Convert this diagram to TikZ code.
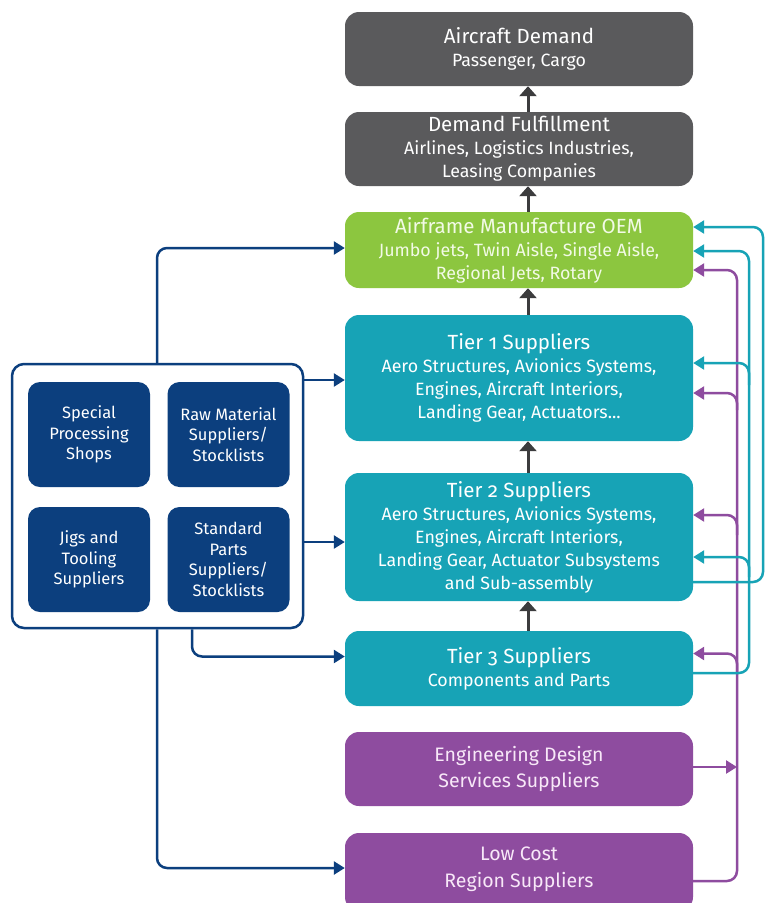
\documentclass[tikz,border=0pt]{standalone}
\usepackage{fontspec}
\setmainfont{Fira Sans}[Numbers=OldStyle]
\usetikzlibrary{arrows.meta,calc}
\definecolor{cgray}{HTML}{5A5A5C}
\definecolor{cgreen}{HTML}{8CC63F}
\definecolor{cteal}{HTML}{17A3B6}
\definecolor{cpurple}{HTML}{8E4C9F}
\definecolor{cblue}{HTML}{0C3F7E}
\definecolor{cdark}{HTML}{3C3C3E}
\definecolor{ctxtgreen}{HTML}{F2FAE6}
\definecolor{ctxtpurple}{HTML}{F8E8F8}
\newcommand\ttlfont{\fontsize{20.5}{23}\selectfont}
\tikzset{
  bigbox/.style={rounded corners=14pt, minimum width=348pt, align=center, inner sep=0pt, text=white,
    font=\fontsize{17.8}{23}\selectfont},
  graybox/.style={bigbox, fill=cgray},
  greenbox/.style={bigbox, fill=cgreen, text=ctxtgreen},
  tealbox/.style={bigbox, fill=cteal},
  purplebox/.style={bigbox, fill=cpurple, text=ctxtpurple},
  smallbox/.style={rounded corners=12pt, fill=cblue, minimum width=122pt, minimum height=105pt, align=center,
    text=white, inner sep=0pt, font=\fontsize{16.5}{20.5}\selectfont},
  container/.style={draw=cblue, line width=2.5pt, rounded corners=12pt, fill=white, minimum width=291pt, minimum height=264pt, inner sep=0pt},
  uparrow/.style={draw=cdark, line width=3pt, -{Triangle[width=17pt,length=10pt]}},
  barrow/.style={draw=cblue, line width=2.5pt, rounded corners=10pt, -{Triangle[width=13pt,length=11pt]}},
  tarrow/.style={draw=cteal, line width=2.5pt, rounded corners=10pt, -{Triangle[width=13pt,length=11pt]}},
  parrow/.style={draw=cpurple, line width=2.5pt, rounded corners=10pt, -{Triangle[width=13pt,length=11pt]}},
}
\begin{document}
\begin{tikzpicture}[x=1pt,y=-1pt]
\fill[white] (0,0) rectangle (765,903);
\useasboundingbox (0,0) rectangle (765,903);

% right column boxes
\node[graybox, minimum height=74pt] (dem) at (519,49) {{\ttlfont Aircraft Demand}\\Passenger, Cargo};
\node[graybox, minimum height=74pt] (ful) at (519,149) {{\ttlfont Demand Fulfillment}\\Airlines, Logistics Industries,\\Leasing Companies};
\node[greenbox, minimum height=76pt] (oem) at (519,250) {{\ttlfont Airframe Manufacture OEM}\\Jumbo jets, Twin Aisle, Single Aisle,\\Regional Jets, Rotary};
\node[tealbox, minimum height=126pt] (t1) at (519,378) {{\ttlfont Tier 1 Suppliers}\\Aero Structures, Avionics Systems,\\Engines, Aircraft Interiors,\\Landing Gear, Actuators...};
\node[tealbox, minimum height=128pt] (t2) at (519,537) {{\ttlfont Tier 2 Suppliers}\\Aero Structures, Avionics Systems,\\Engines, Aircraft Interiors,\\Landing Gear, Actuator Subsystems\\and Sub-assembly};
\node[tealbox, minimum height=75pt] (t3) at (519,668.5) {{\ttlfont Tier 3 Suppliers}\\Components and Parts};
\node[purplebox, minimum height=74pt, font=\fontsize{19.5}{26.5}\selectfont] (eng) at (519,769) {Engineering Design\\Services Suppliers};
\node[purplebox, minimum height=78pt] (low) at (519,872) {};
\node[text=ctxtpurple, align=center, font=\fontsize{19.5}{26.5}\selectfont, inner sep=0pt] (lowtxt) at (519,869) {Low Cost\\Region Suppliers};

% left container
\node[container] (cont) at (157.5,496) {};
\node[smallbox] (sp) at (89,434.5) {Special\\Processing\\Shops};
\node[smallbox] (rm) at (228.5,434.5) {Raw Material\\Suppliers/\\Stocklists};
\node[smallbox] (jt) at (89,559.5) {Jigs and\\Tooling\\Suppliers};
\node[smallbox] (sd) at (228.5,559.5) {Standard\\Parts\\Suppliers/\\Stocklists};

% vertical flow arrows
\draw[uparrow] ([xshift=9pt]ful.north) -- ([xshift=9pt]dem.south);
\draw[uparrow] ([xshift=9pt]oem.north) -- ([xshift=9pt]ful.south);
\draw[uparrow] ([xshift=9pt]t1.north) -- ([xshift=9pt]oem.south);
\draw[uparrow] ([xshift=9pt]t2.north) -- ([xshift=9pt]t1.south);
\draw[uparrow] ([xshift=9pt]t3.north) -- ([xshift=9pt]t2.south);

% left connectors
\coordinate (cTopOut) at ([xshift=-0.5pt]cont.north);
\draw[barrow] (cTopOut) |- ([yshift=2pt]oem.west);
\draw[barrow] (cont.east |- 0,380) -- (t1.west |- 0,380);
\draw[barrow] (cont.east |- 0,542) -- (t2.west |- 0,542);
\draw[barrow] ([xshift=34.5pt]cont.south) |- ([yshift=12pt]t3.west);
\draw[barrow] ([xshift=-0.5pt]cont.south) |- (low.west |- 0,868);

% purple feedback line (x = 737)
\coordinate (pv) at (737,0);
\draw[parrow] ([yshift=-9pt]low.east) -| (pv |- 0,300) |- ([yshift=-20pt]oem.east);
\draw[parrow] (pv |- 0,410) |- ([yshift=-15pt]t1.east);
\draw[parrow] (pv |- 0,535) |- ([yshift=22pt]t2.east);
\draw[parrow] (pv |- 0,673) |- ([yshift=15pt]t3.east);
\draw[draw=cpurple, line width=2.5pt, -{Triangle[width=13pt,length=11pt]}] ([yshift=2pt]eng.east) -- (pv |- 0,767);

% teal feedback line A (x = 749)
\coordinate (tva) at (749,0);
\draw[tarrow] ([yshift=-4.5pt]t3.east) -| (tva |- 0,300) |- ([yshift=-1pt]oem.east);
\draw[tarrow] (tva |- 0,385) |- ([yshift=15pt]t1.east);
\draw[tarrow] (tva |- 0,577) |- ([yshift=-20pt]t2.east);

% teal feedback line B (x = 763)
\coordinate (tvb) at (763,0);
\draw[tarrow] ([yshift=-45pt]t2.east) -| (tvb |- 0,300) |- ([yshift=23pt]oem.east);
\end{tikzpicture}
\end{document}
